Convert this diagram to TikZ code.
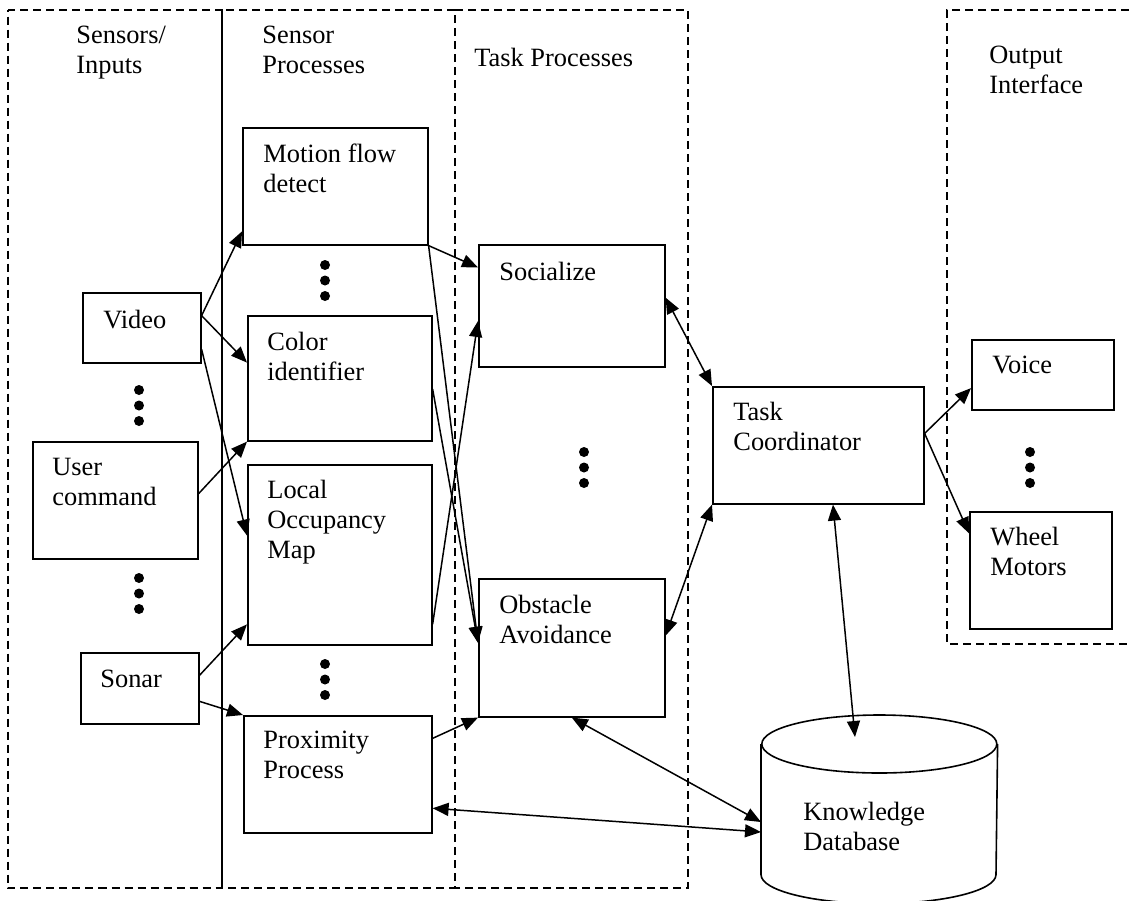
\documentclass[tikz,border=0pt]{standalone}
\usepackage{fontspec}
\setmainfont{Liberation Serif}
\usetikzlibrary{positioning, arrows.meta, calc}

\begin{document}
\begin{tikzpicture}[
            x=0.5pt, y=-0.5pt,
            every node/.style={font=\fontsize{13.2pt}{15pt}\selectfont},
            % Definición de estilos
            panel/.style={draw, line width=0.75pt, dash pattern=on 4pt off 2.5pt},
            box/.style={rectangle, draw, line width=0.8pt, anchor=north west, inner sep=0pt},
            txt/.style={anchor=base west, align=left, inner sep=0pt},
            dbline/.style={line width=0.8pt},
            arrow/.style={line width=0.75pt, -{Triangle[length=8pt, width=6.5pt]}},
            dblarrow/.style={line width=0.75pt, {Triangle[length=8pt, width=6.5pt]}-{Triangle[length=8pt, width=6.5pt]}}
        ]
            \useasboundingbox (0,0) rectangle (1129,900);

            % --- Paneles ---
            \draw [panel, dash phase=3.25pt] (8,10) rectangle (222,888);
            \draw [panel] (222,10) rectangle (455,888);
            \draw [panel] (455,10) -- (688,10) -- (688,888) -- (455,888);
            \draw [panel] (1129,10) -- (947,10) -- (947,644) -- (1129,644);

            \node (sensorstitle) [txt] at (76,73) {Sensors/\\Inputs};
            \node (sproctitle) [txt] at (262,73) {Sensor\\Processes};
            \node (tproctitle) [txt] at (474,66) {Task Processes};
            \node (outtitle) [txt] at (989,93) {Output\\Interface};

            % --- Declaración de Nodos ---
            \node (video) [box, minimum width=59pt, minimum height=35pt] at (82,292) {};
            \node (user) [box, minimum width=82.5pt, minimum height=58.5pt] at (32,441) {};
            \node (sonar) [box, minimum width=59pt, minimum height=35.5pt] at (80,652) {};

            \node (motion) [box, minimum width=92.5pt, minimum height=58.5pt] at (242,127) {};
            \node (color) [box, minimum width=92pt, minimum height=62.5pt] at (247,315) {};
            \node (lom) [box, minimum width=92pt, minimum height=90pt] at (247,464) {};
            \node (prox) [box, minimum width=94pt, minimum height=58.5pt] at (243,715) {};

            \node (social) [box, minimum width=93pt, minimum height=61pt] at (478,244) {};
            \node (obst) [box, minimum width=93pt, minimum height=69pt] at (478,578) {};

            \node (coord) [box, minimum width=105.5pt, minimum height=58.5pt] at (712,386) {};
            \node (voice) [box, minimum width=71pt, minimum height=35pt] at (971,339) {};
            \node (wheel) [box, minimum width=71pt, minimum height=58.5pt] at (969,511) {};

            % base de datos (cilindro)
            \node (kdb) [box, draw=none, minimum width=117.5pt, minimum height=93.5pt] at (761,715) {};
            \draw [dbline] ($(kdb.north west)+(0,29)$) -- ($(kdb.south west)+(0,-29)$)
                arc (180:0:117.5 and 29) -- ($(kdb.north east)+(0,29)$);
            \draw [dbline] ($(kdb.north)+(0,29)$) ellipse (117.5 and 29);

            % --- Textos ---
            \node (videotxt) [txt] at ($(video.north west)+(21,36)$) {Video};
            \node (usertxt) [txt] at ($(user.north west)+(20,64)$) {User\\command};
            \node (sonartxt) [txt] at ($(sonar.north west)+(20,35)$) {Sonar};
            \node (motiontxt) [txt] at ($(motion.north west)+(21,65)$) {Motion flow\\detect};
            \node (colortxt) [txt] at ($(color.north west)+(20,65)$) {Color\\identifier};
            \node (lomtxt) [txt] at ($(lom.north west)+(20,94)$) {Local\\Occupancy\\Map};
            \node (proxtxt) [txt] at ($(prox.north west)+(20,63)$) {Proximity\\Process};
            \node (socialtxt) [txt] at ($(social.north west)+(21,36)$) {Socialize};
            \node (obsttxt) [txt] at ($(obst.north west)+(21,65)$) {Obstacle\\Avoidance};
            \node (coordtxt) [txt] at ($(coord.north west)+(21,64)$) {Task\\Coordinator};
            \node (voicetxt) [txt] at ($(voice.north west)+(21,34)$) {Voice};
            \node (wheeltxt) [txt] at ($(wheel.north west)+(21,64)$) {Wheel\\Motors};
            \node (kdbtxt) [txt] at ($(kdb.north west)+(42,135)$) {Knowledge\\Database};

            % --- Puntos suspensivos ---
            \foreach \dx/\dy in {139/390, 139/578, 325/265, 325/664, 584/452, 1030/452}
                \foreach \k in {0,1,2}
                    \fill (\dx,\dy+15.5*\k) circle (2.5pt);

            % --- Conexiones ---
            \draw [arrow] ($(video.north east)!0.33!(video.south east)$) -- ($(motion.north west)!0.88!(motion.south west)$);
            \draw [arrow] ($(video.north east)!0.33!(video.south east)$) -- ($(color.north west)!0.376!(color.south west)$);
            \draw [arrow] ($(video.north east)!0.8!(video.south east)$) -- ($(lom.north west)!0.394!(lom.south west)$);
            \draw [arrow] ($(user.north east)!0.444!(user.south east)$) -- (color.south west);
            \draw [arrow] ($(sonar.north east)!0.32!(sonar.south east)$) -- ($(lom.north west)!0.883!(lom.south west)$);
            \draw [arrow] ($(sonar.north east)!0.68!(sonar.south east)$) -- (prox.north west);

            \draw [arrow] (motion.south east) -- ($(social.north west)!0.19!(social.south west)$);
            \draw [arrow] (motion.south east) -- ($(obst.north west)!0.464!(obst.south west)$);
            \draw [arrow] ($(color.north east)!0.584!(color.south east)$) -- ($(obst.north west)!0.464!(obst.south west)$);
            \draw [arrow] ($(lom.north east)!0.883!(lom.south east)$) -- ($(social.north west)!0.623!(social.south west)$);
            \draw [arrow] ($(prox.north east)!0.197!(prox.south east)$) -- (obst.south west);

            \draw [dblarrow] ($(social.north east)!0.434!(social.south east)$) -- (coord.north west);
            \draw [dblarrow] ($(obst.north east)!0.413!(obst.south east)$) -- (coord.south west);
            \draw [dblarrow] ($(coord.south west)!0.569!(coord.south east)$) -- ($(kdb.north west)+(94,22)$);
            \draw [dblarrow] (obst.south) -- ($(kdb.north west)+(0,107)$);
            \draw [dblarrow] ($(prox.north east)!0.786!(prox.south east)$) -- ($(kdb.north west)+(0,117)$);

            \draw [arrow] ($(coord.north east)!0.4!(coord.south east)$) -- ($(voice.north west)!0.686!(voice.south west)$);
            \draw [arrow] ($(coord.north east)!0.4!(coord.south east)$) -- ($(wheel.north west)!0.188!(wheel.south west)$);

        \end{tikzpicture}
\end{document}
